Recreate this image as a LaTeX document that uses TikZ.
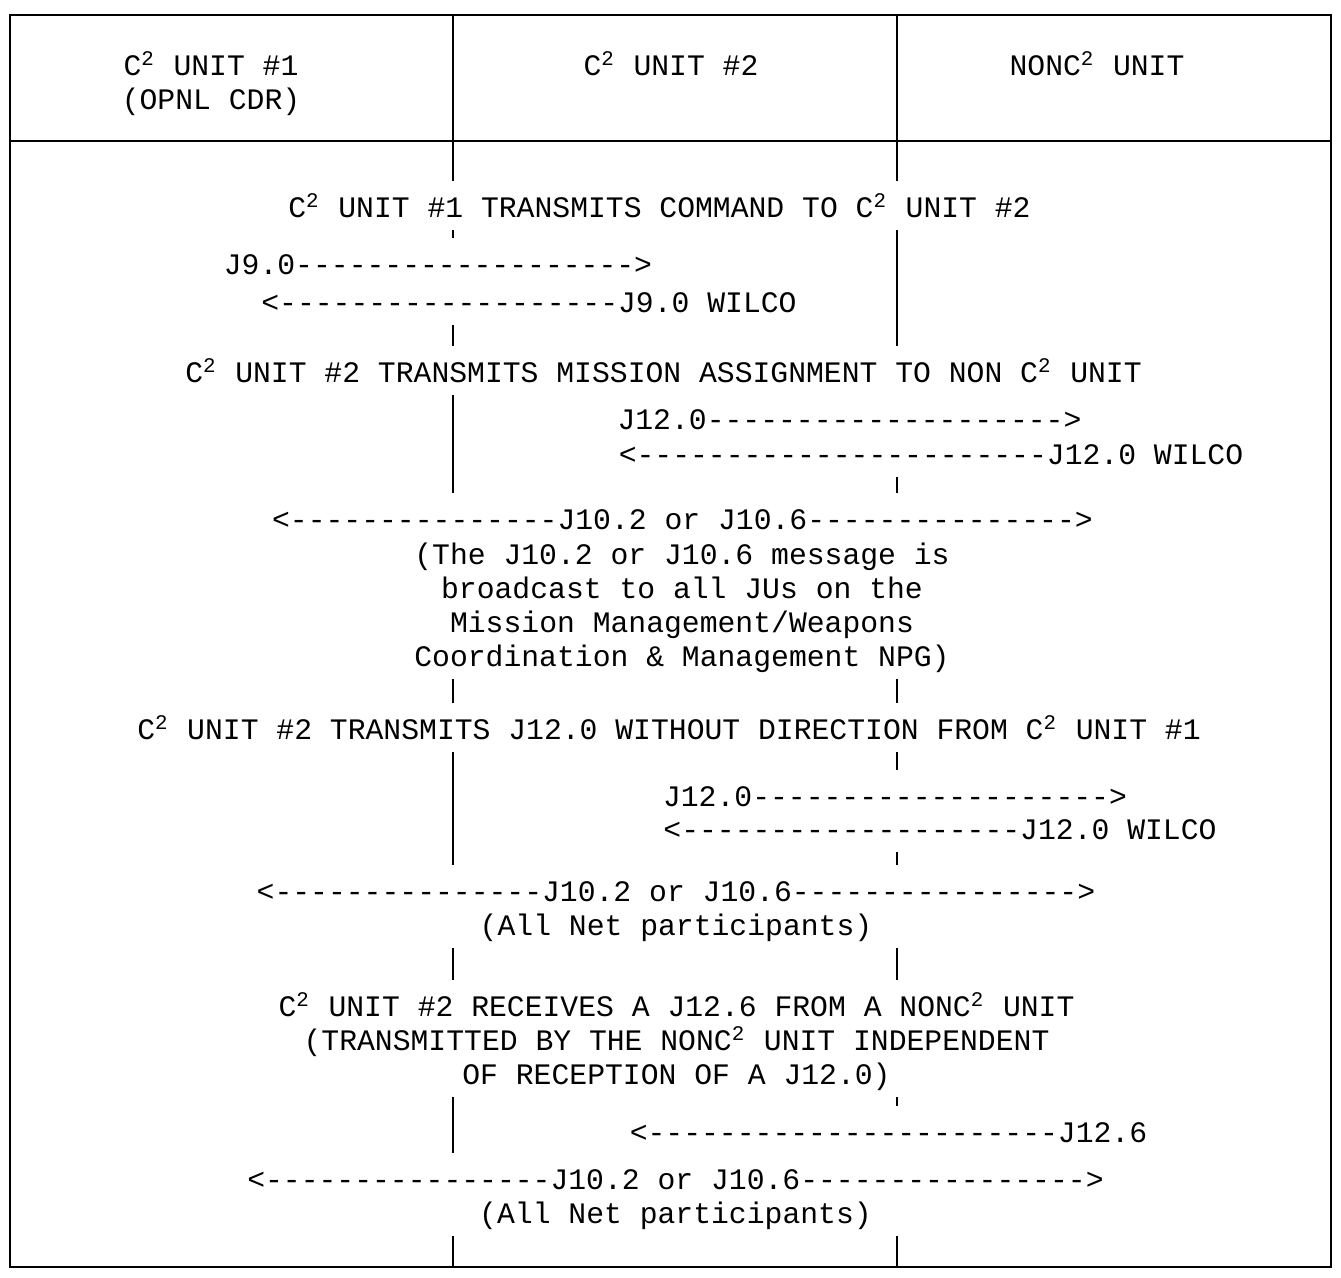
\documentclass[tikz,border=0pt]{standalone}
\usepackage{fontspec}
\newfontfamily\msgfont{Liberation Mono}
\newcommand\sq{\textsuperscript{2}}
\newcommand\tstr{\rule{0pt}{3.7mm}}
\newcommand\bstr{\rule[-1.2mm]{0pt}{1.2mm}}
\tikzset{
x=0.1mm, y=-0.1mm, % one unit for each pixel of the sheet
every node/.style={font=\msgfont\fontsize{8.46pt}{9.7pt}\selectfont, align=center, inner sep=0pt, anchor=north},
line/.style={text height=3.7mm, text depth=1.2mm}, % one text line
msg/.style={line, fill=white}, % the white box cuts the lifelines
blk/.style={fill=white}, % several lines, struts written in the text
frame/.style={line width=0.8pt},
}

\begin{document}
\begin{tikzpicture}
\useasboundingbox (0,0) rectangle (1341,1278);

% lifelines first, the texts go over them
\coordinate (u1top) at (453,15);
\coordinate (u1bot) at (453,1267);
\coordinate (u2top) at (897,15);
\coordinate (u2bot) at (897,1267);
\draw[frame] (u1top) -- (u1bot);
\draw[frame] (u2top) -- (u2bot);

% table frame
\draw[frame] (10,15) rectangle (1331,1267);
\draw[frame] (10,141) -- (1331,141);

% column heads
\node (h1) at (211,38) {\tstr C\sq{} UNIT \#1\\(OPNL CDR)\bstr};
\node[line] (h2) at (671,38) {C\sq{} UNIT \#2};
\node[line] (h3) at (1097,38) {NONC\sq{} UNIT};

% command (lower line first, so its box stays under the upper text)
\node[msg] (t1) at (659.5,180) {C\sq{} UNIT \#1 TRANSMITS COMMAND TO C\sq{} UNIT \#2};
\node[msg] (m2) at (529,275) {<-------------------J9.0 WILCO};
\node[msg] (m1) at (438,237) {J9.0------------------->};

% mission assignment
\node[msg] (t2) at (663.5,345) {C\sq{} UNIT \#2 TRANSMITS MISSION ASSIGNMENT TO NON C\sq{} UNIT};
\node[msg] (m4) at (931,427) {<-----------------------J12.0 WILCO};
\node[msg] (m3) at (849.5,392) {J12.0-------------------->};
\node[blk] (n1) at (682,527) {\tstr(The J10.2 or J10.6 message is\\broadcast to all JUs on the\\Mission Management/Weapons\\Coordination \& Management NPG)\bstr};
\node[msg] (m5) at (682.5,492) {<---------------J10.2 or J10.6--------------->};

% J12.0 without direction
\node[msg] (t3) at (669,702) {C\sq{} UNIT \#2 TRANSMITS J12.0 WITHOUT DIRECTION FROM C\sq{} UNIT \#1};
\node[blk] (m8) at (676,864) {\tstr<---------------J10.2 or J10.6---------------->\\(All Net participants)\bstr};
\node[msg] (m7) at (940,802) {<-------------------J12.0 WILCO};
\node[msg] (m6) at (895,769) {J12.0-------------------->};

% J12.6 from the nonC2 unit
\node[blk] (t4) at (676.5,979) {\tstr C\sq{} UNIT \#2 RECEIVES A J12.6 FROM A NONC\sq{} UNIT\\(TRANSMITTED BY THE NONC\sq{} UNIT INDEPENDENT\\OF RECEPTION OF A J12.0)\bstr};
\node[blk] (m10) at (675.5,1152) {\tstr<----------------J10.2 or J10.6---------------->\\(All Net participants)\bstr};
\node[msg] (m9) at (888.5,1105) {<-----------------------J12.6};

\end{tikzpicture}
\end{document}
